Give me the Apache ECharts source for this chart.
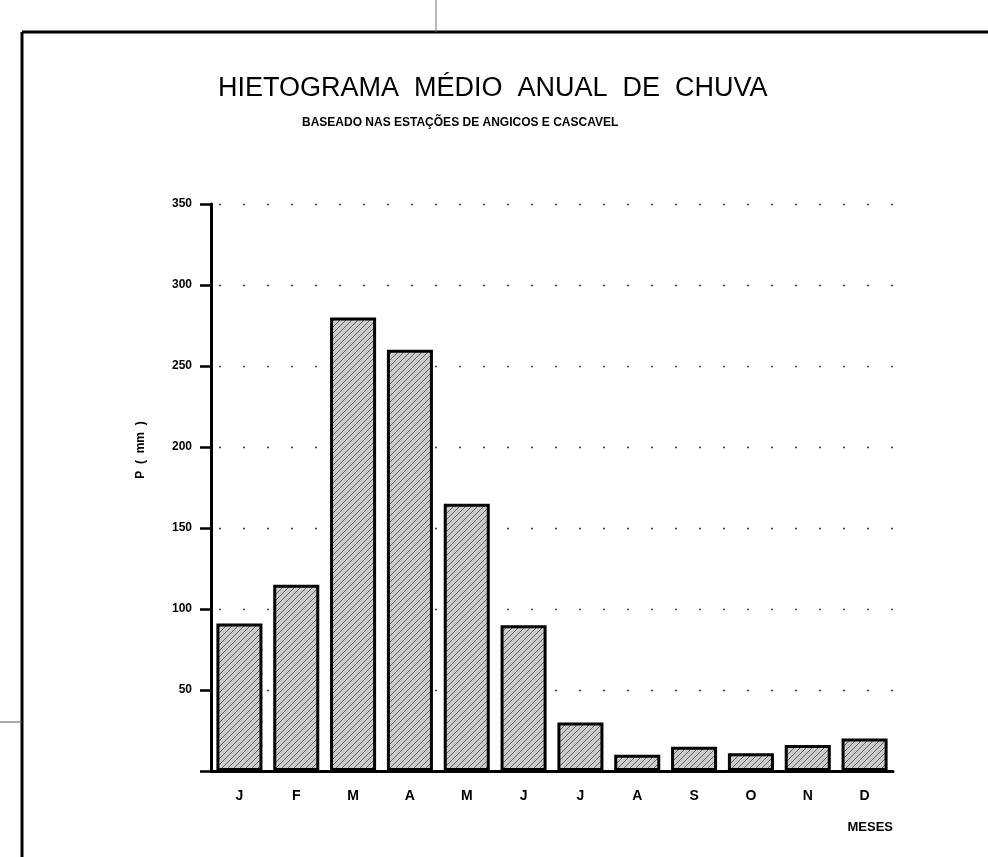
<!DOCTYPE html>
<html>
<head>
<meta charset="utf-8">
<title>Hietograma médio anual de chuva</title>
<script src="https://cdn.jsdelivr.net/npm/echarts@6/dist/echarts.min.js"></script>
<style>
  html, body { margin: 0; padding: 0; background: #fff; }
  #chart { width: 988px; height: 857px; }
</style>
</head>
<body>
<div id="chart"></div>
<script>
// meses do ano (eixo x)
var meses = ['J', 'F', 'M', 'A', 'M', 'J', 'J', 'A', 'S', 'O', 'N', 'D'];
// precipitação média mensal, mm
var precipitacao = [91, 115, 280, 260, 165, 90, 30, 10, 15, 11, 16, 20];
// eixo y
var yMin = 0;
var yMax = 350;
var yPasso = 50;

// textura hachurada das barras
function hachura() {
  var c = document.createElement('canvas');
  c.width = 6;
  c.height = 6;
  var ctx = c.getContext('2d');
  ctx.fillStyle = '#cbcbcb';
  ctx.fillRect(0, 0, 6, 6);
  ctx.strokeStyle = '#5e5e5e';
  ctx.lineWidth = 1;
  ctx.beginPath();
  ctx.moveTo(0, 6); ctx.lineTo(6, 0);
  ctx.moveTo(-3, 3); ctx.lineTo(3, -3);
  ctx.moveTo(3, 9); ctx.lineTo(9, 3);
  ctx.stroke();
  return c;
}

var myChart = echarts.init(document.getElementById('chart'));

myChart.setOption({
  animation: false,
  backgroundColor: '#fff',
  textStyle: { fontFamily: 'Liberation Sans', color: '#000' },
  title: [
    {
      text: 'HIETOGRAMA  MÉDIO  ANUAL  DE  CHUVA',
      left: 213,
      top: 70,
      textStyle: { fontSize: 27, fontWeight: 'normal', color: '#000', fontFamily: 'Liberation Sans' }
    },
    {
      text: 'BASEADO NAS ESTAÇÕES DE ANGICOS E CASCAVEL',
      left: 297,
      top: 112,
      textStyle: { fontSize: 12, fontWeight: 'bold', color: '#000', fontFamily: 'Liberation Sans' }
    }
  ],
  grid: { left: 211, right: 95, top: 204, bottom: 86 },
  xAxis: [
    {
      type: 'category',
      data: meses,
      name: 'MESES',
      nameLocation: 'end',
      nameGap: 0,
      nameTextStyle: {
        fontSize: 13, fontWeight: 'bold', color: '#000',
        align: 'right', verticalAlign: 'top', padding: [50, 0, 0, 0]
      },
      axisLine: { lineStyle: { color: '#000', width: 3 } },
      axisTick: { length: 12, lineStyle: { color: '#000', width: 2 } },
      axisLabel: { color: '#000', fontSize: 14, fontWeight: 'bold', margin: 18 }
    },
    {
      type: 'category',
      data: meses,
      position: 'bottom',
      offset: 0,
      axisLine: { show: false },
      axisTick: { inside: true, length: 7, lineStyle: { color: '#000', width: 2 } },
      axisLabel: { show: false }
    }
  ],
  yAxis: {
    type: 'value',
    min: yMin,
    max: yMax,
    interval: yPasso,
    name: 'P  (  mm  )',
    nameLocation: 'middle',
    nameGap: 64,
    nameTextStyle: { fontSize: 12, fontWeight: 'bold', color: '#000', padding: [0, 0, 0, 75] },
    axisLine: { show: true, lineStyle: { color: '#000', width: 3 } },
    axisTick: { show: true, length: 11, lineStyle: { color: '#000', width: 2.5 } },
    axisLabel: {
      color: '#000', fontSize: 12, fontWeight: 'bold', margin: 19,
      formatter: function (v) { return v === 0 ? '' : String(v); }
    },
    splitLine: {
      show: true,
      lineStyle: { color: '#444', width: 1.3, type: [2, 22], dashOffset: 16 }
    }
  },
  series: [
    {
      name: 'P',
      type: 'bar',
      data: precipitacao,
      barCategoryGap: '19%',
      itemStyle: {
        color: { image: hachura(), repeat: 'repeat' },
        borderColor: '#000',
        borderWidth: 3
      }
    }
  ],
  graphic: [
    { type: 'line', shape: { x1: 22, y1: 32, x2: 988, y2: 32 }, style: { stroke: '#000', lineWidth: 3 } },
    { type: 'line', shape: { x1: 22, y1: 32, x2: 22, y2: 857 }, style: { stroke: '#000', lineWidth: 3 } },
    { type: 'line', shape: { x1: 436, y1: 0, x2: 436, y2: 32 }, style: { stroke: '#777', lineWidth: 1 } },
    { type: 'line', shape: { x1: 0, y1: 722, x2: 22, y2: 722 }, style: { stroke: '#555', lineWidth: 1 } }
  ]
});
</script>
</body>
</html>
